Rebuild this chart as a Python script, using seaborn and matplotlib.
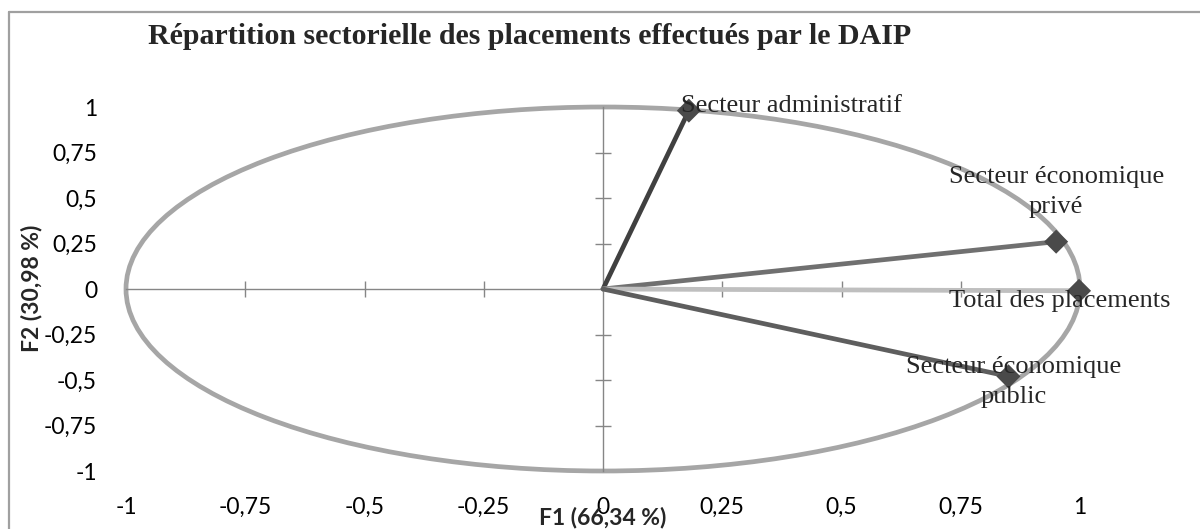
import numpy as np
import pandas as pd
import matplotlib
matplotlib.use("Agg")
import matplotlib.pyplot as plt
import seaborn as sns
from matplotlib.patches import Ellipse
from matplotlib.lines import Line2D

# ---------------- data ----------------
sectors = ["Secteur administratif", "Secteur économique privé",
           "Total des placements", "Secteur économique public"]
labels = ["Secteur administratif", "Secteur économique\nprivé",
          "Total des placements", "Secteur économique\npublic"]
f1 = [0.18, 0.95, 0.998, 0.85]
f2 = [0.98, 0.26, -0.01, -0.48]
line_colors = ["#404040", "#707070", "#bfbfbf", "#5e5e5e"]

tick_vals = [-1, -0.75, -0.5, -0.25, 0, 0.25, 0.5, 0.75, 1]
tick_text = ["-1", "-0,75", "-0,5", "-0,25", "0", "0,25", "0,5", "0,75", "1"]
title = "Répartition sectorielle des placements effectués par le DAIP"
xlabel = "F1 (66,34 %)"
ylabel = "F2 (30,98 %)"

# ---------------- styling ----------------
sns.set_theme(style="white")
plt.rcParams["font.family"] = ["Lato", "DejaVu Sans"]

W, H = 1200, 529
fig = plt.figure(figsize=(W / 100, H / 100), dpi=100)

# axes geometry (pixel-based)
lim = 1.02
px_x0, px_per_x = 603, 477
px_y0, px_per_y = 289, 182
left = (px_x0 - lim * px_per_x) / W
width = 2 * lim * px_per_x / W
top_px = px_y0 - lim * px_per_y
height = 2 * lim * px_per_y / H
bottom = (H - (top_px + 2 * lim * px_per_y)) / H

ax = fig.add_axes([left, bottom, width, height])
ax.set_xlim(-lim, lim)
ax.set_ylim(-lim, lim)
for s in ax.spines.values():
    s.set_visible(False)
ax.set_xticks(tick_vals)
ax.set_xticklabels(tick_text)
ax.set_yticks(tick_vals)
ax.set_yticklabels(tick_text)
ax.tick_params(axis="both", length=0, labelsize=16.5, colors="#000000")
ax.tick_params(axis="x", pad=16)
ax.tick_params(axis="y", pad=14)
ax.set_facecolor("none")

# central axes with crossing tick marks
ax2 = fig.add_axes([left, bottom, width, height])
ax2.set_xlim(-lim, lim)
ax2.set_ylim(-lim, lim)
ax2.patch.set_visible(False)
for k in ("top", "right"):
    ax2.spines[k].set_visible(False)
for k in ("left", "bottom"):
    ax2.spines[k].set_position(("data", 0))
    ax2.spines[k].set_color("#868686")
    ax2.spines[k].set_linewidth(1.0)
    ax2.spines[k].set_bounds(-1, 1)
ax2.tick_params(axis="both", direction="inout", length=12, width=1.0,
                color="#868686", labelleft=False, labelbottom=False,
                left=True, bottom=True)
ax2.set_xticks([v for v in tick_vals if v != 0 and abs(v) != 1])
ax2.set_yticks([v for v in tick_vals if v != 0 and abs(v) != 1])

# correlation circle
circ = Ellipse((0, 0), 2, 2, fill=False, edgecolor="#a6a6a6", linewidth=3.4,
               zorder=2, clip_on=False)
ax2.add_patch(circ)

# vectors
rows = []
for s, x, y in zip(sectors, f1, f2):
    rows.append({"sector": s, "F1": 0.0, "F2": 0.0})
    rows.append({"sector": s, "F1": x, "F2": y})
df = pd.DataFrame(rows)
pal = dict(zip(sectors, line_colors))
sns.lineplot(data=df, x="F1", y="F2", hue="sector", units="sector",
             estimator=None, sort=False, palette=pal, linewidth=3.4,
             legend=False, ax=ax2, zorder=3)
pts = pd.DataFrame({"sector": sectors, "F1": f1, "F2": f2})
sns.scatterplot(data=pts, x="F1", y="F2", marker="D", s=150,
                color="#4a4a4a", edgecolor="none", legend=False, ax=ax2,
                zorder=5, clip_on=False)
ax2.set_xlabel("")
ax2.set_ylabel("")

# point labels
serif = ["Liberation Serif", "DejaVu Serif"]
lab_fs = 19
ax2.annotate(labels[0], (f1[0], f2[0]), xytext=(-6, 3), textcoords="offset points",
             ha="left", va="center", fontsize=lab_fs, family=serif, zorder=6)
ax2.annotate(labels[1], (f1[1], f2[1]), xytext=(0, 17), textcoords="offset points",
             ha="center", va="bottom", fontsize=lab_fs, family=serif,
             linespacing=1.45, zorder=6)
ax2.annotate(labels[2], (f1[2], f2[2]), xytext=(-14, -7), textcoords="offset points",
             ha="center", va="center", fontsize=lab_fs, family=serif, zorder=6)
ax2.annotate(labels[3], (f1[3], f2[3]), xytext=(4, -4), textcoords="offset points",
             ha="center", va="center", fontsize=lab_fs, family=serif,
             linespacing=1.45, zorder=6)

# axis titles
fig.text(603 / W, 1 - 518 / H, xlabel, ha="center", va="center",
         fontsize=16.5, fontweight="bold")
fig.text(31 / W, 1 - 288 / H, ylabel, ha="center", va="center",
         rotation=90, fontsize=16.5, fontweight="bold")

# title
fig.text(530 / W, 1 - 37 / H, title, ha="center", va="center",
         fontsize=21.5, fontweight="bold", family=serif)

# outer chart frame (top and left visible)
fig.add_artist(Line2D([9 / W, 1.0], [1 - 12 / H, 1 - 12 / H],
                      transform=fig.transFigure, color="#a0a0a0", linewidth=1.6))
fig.add_artist(Line2D([9 / W, 9 / W], [0, 1 - 12 / H],
                      transform=fig.transFigure, color="#a0a0a0", linewidth=1.6))

fig.savefig("out.png", dpi=100, facecolor="white")
